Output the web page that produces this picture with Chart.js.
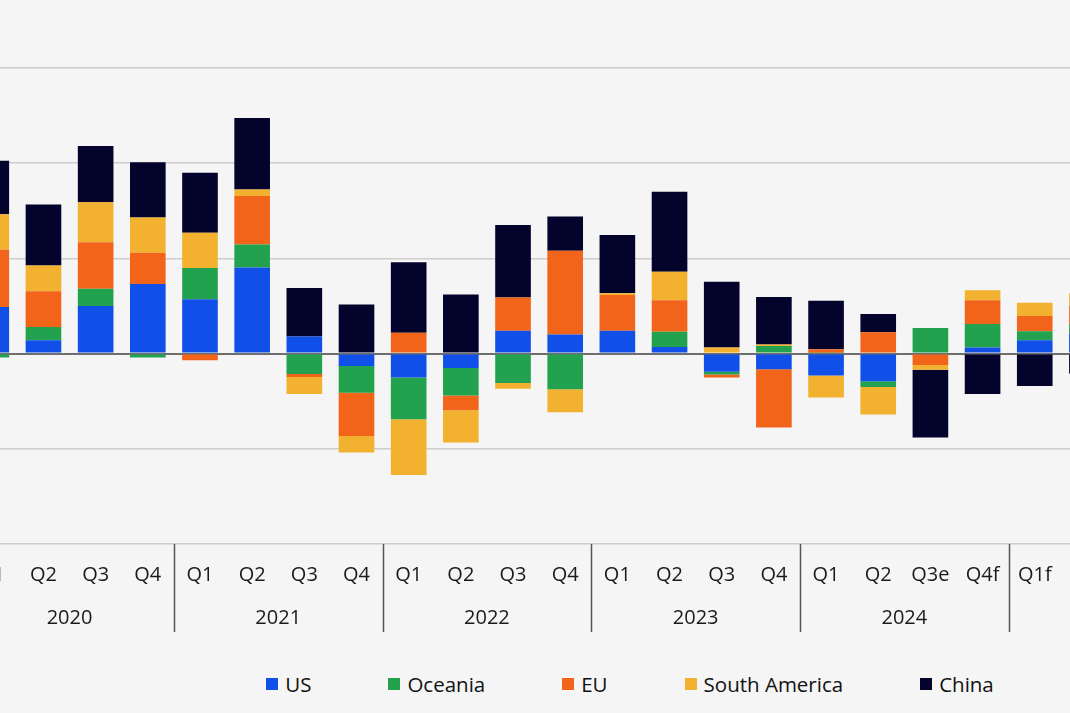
<!DOCTYPE html>
<html>
<head>
<meta charset="utf-8">
<script src="https://cdn.jsdelivr.net/npm/chart.js@4.4.1/dist/chart.umd.min.js"></script>
<style>
  html, body { margin:0; padding:0; background:#f5f5f5; width:1070px; height:713px; overflow:hidden; }
  #wrap { position:absolute; left:-41px; top:0; width:1268px; height:640px; }
  #legend { position:absolute; left:0; top:672px; width:1260px; display:flex; justify-content:center; gap:77px;
            font-family:"Open Sans", sans-serif; font-size:20.5px; color:#111; line-height:24px; }
  .item { display:flex; align-items:center; }
  .box { width:12px; height:12px; margin-right:7px; }
</style>
</head>
<body>
<div id="wrap"><canvas id="c" width="1268" height="640"></canvas></div>
<div id="legend"></div>
<script>
// Categories
const quarters = ["Q1","Q2","Q3","Q4","Q1","Q2","Q3","Q4","Q1","Q2","Q3","Q4","Q1","Q2","Q3","Q4","Q1","Q2","Q3e","Q4f","Q1f","Q2f","Q3f","Q4f"];
const years = ["2020","2021","2022","2023","2024","2025"];
const quartersPerYear = [4,4,4,4,4,4];
// Series values (contribution, stacked)
const US      = [0.49,0.14,0.50,0.73, 0.57,0.905,0.18,-0.13, -0.25,-0.15,0.24,0.20, 0.24,0.07,-0.19,-0.165, -0.23,-0.29,0,0.065, 0.14,0.21,null,null];
const Oceania = [-0.04,0.14,0.18,-0.04, 0.33,0.24,-0.215,-0.28, -0.44,-0.29,-0.31,-0.375, 0,0.16,-0.03,0.08, 0.01,-0.06,0.27,0.245, 0.095,0.10,null,null];
const EU      = [0.60,0.375,0.49,0.33, -0.07,0.51,-0.03,-0.455, 0.22,-0.155,0.35,0.88, 0.375,0.33,-0.03,-0.61, 0.035,0.225,-0.12,0.25, 0.16,0.19,null,null];
const SouthAmerica = [0.375,0.27,0.42,0.37, 0.37,0.07,-0.18,-0.175, -0.585,-0.34,-0.06,-0.24, 0.02,0.30,0.065,0.015, -0.23,-0.29,-0.05,0.105, 0.14,0.13,null,null];
const China   = [0.56,0.64,0.59,0.58, 0.63,0.75,0.51,0.515, 0.74,0.62,0.76,0.36, 0.61,0.84,0.69,0.50, 0.51,0.19,-0.71,-0.425, -0.34,-0.21,null,null];
// Y ticks
const yMin = -2, yMax = 3, yStep = 1;

const seriesNames = ["US","Oceania","EU","South America","China"];
const seriesData = [US, Oceania, EU, SouthAmerica, China];
const seriesColors = ["#1150e8","#22a24f","#f2641a","#f2b22f","#03032c"];

const yearPlugin = {
  id: 'yearGroups',
  afterDraw(chart) {
    const x = chart.scales.x;
    const ctx = chart.ctx;
    const step = x.getPixelForValue(1) - x.getPixelForValue(0);
    ctx.save();
    ctx.font = '20px "Open Sans", sans-serif';
    ctx.fillStyle = '#1a1a1a';
    ctx.textAlign = 'center';
    ctx.textBaseline = 'middle';
    ctx.strokeStyle = '#555555';
    ctx.lineWidth = 1.5;
    let start = 0;
    years.forEach((yr, gi) => {
      const n = quartersPerYear[gi];
      const first = x.getPixelForValue(start);
      const last = x.getPixelForValue(start + n - 1);
      ctx.fillText(yr, (first + last) / 2, 618);
      const sx = Math.round(first - step / 2) + 0.5;
      ctx.beginPath();
      ctx.moveTo(sx, chart.chartArea.bottom);
      ctx.lineTo(sx, 632);
      ctx.stroke();
      start += n;
    });
    ctx.restore();
  }
};

const chart = new Chart(document.getElementById('c'), {
  type: 'bar',
  data: {
    labels: quarters,
    datasets: seriesNames.map((name, i) => ({
      label: name,
      data: seriesData[i],
      backgroundColor: seriesColors[i],
      borderWidth: 0,
      categoryPercentage: 1,
      barPercentage: 0.683
    }))
  },
  options: {
    responsive: false,
    animation: false,
    layout: { padding: { top: 68, left: 0, right: 0, bottom: 0 } },
    plugins: { legend: { display: false }, tooltip: { enabled: false } },
    scales: {
      x: {
        stacked: true,
        grid: { display: false, drawTicks: false },
        border: { display: false },
        ticks: { padding: 19, color: '#1a1a1a', font: { family: '"Open Sans", sans-serif', size: 20 }, maxRotation: 0, autoSkip: false },
        afterFit(scale) { scale.height = 640 - 544; }
      },
      y: {
        stacked: true,
        min: yMin, max: yMax,
        grid: {
          drawTicks: false,
          color: ctx => ctx.tick && ctx.tick.value === 0 ? '#6e6e6e' : '#cdcdcd',
          lineWidth: ctx => ctx.tick && ctx.tick.value === 0 ? 2 : 1.5
        },
        border: { display: false },
        ticks: { display: false, stepSize: yStep }
      }
    }
  },
  plugins: [yearPlugin]
});

// Legend built from the chart's datasets
const leg = document.getElementById('legend');
chart.data.datasets.forEach(ds => {
  const it = document.createElement('div'); it.className = 'item';
  const b = document.createElement('span'); b.className = 'box'; b.style.background = ds.backgroundColor;
  const t = document.createElement('span'); t.textContent = ds.label;
  it.appendChild(b); it.appendChild(t); leg.appendChild(it);
});
</script>
</body>
</html>
